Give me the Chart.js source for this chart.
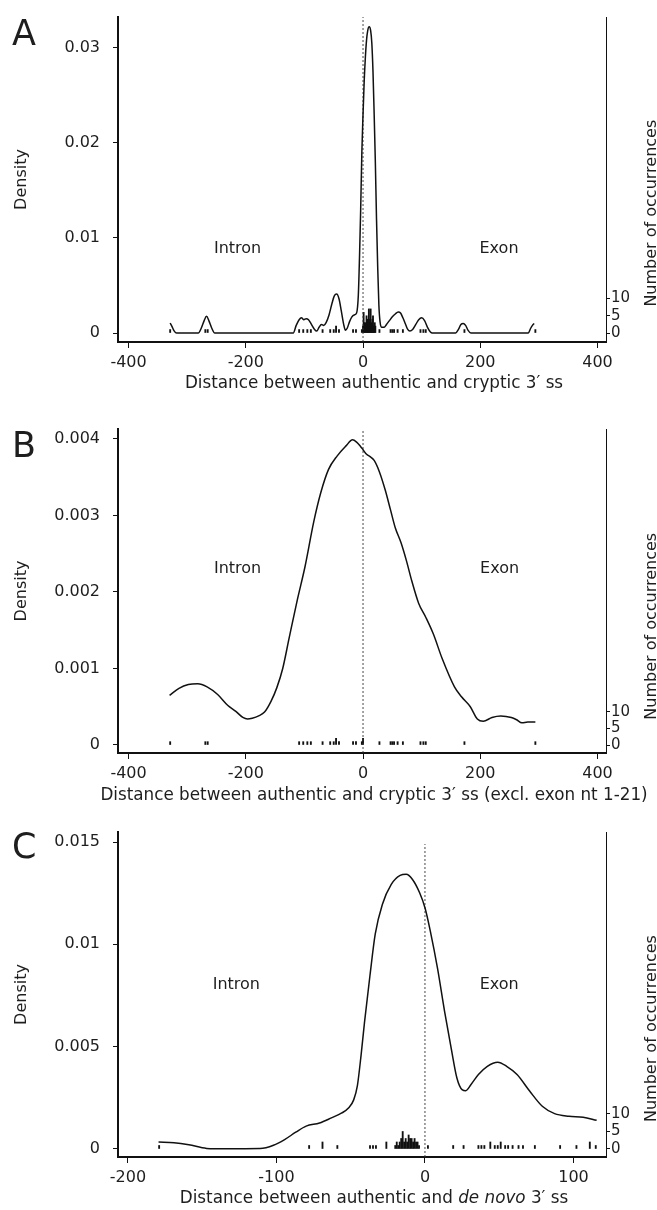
<!DOCTYPE html>
<html><head><meta charset="utf-8">
<script src="https://cdn.jsdelivr.net/npm/chart.js@4.4.0/dist/chart.umd.min.js"></script>
<style>
html,body{margin:0;padding:0;background:#fff;}
#wrap{position:relative;width:657px;height:1210px;overflow:hidden;background:#fff;}
canvas{position:absolute;left:0;}
</style></head><body>
<div id="wrap">
<canvas id="cA" width="657" height="400" style="top:0px;width:657px;height:400px"></canvas>
<canvas id="cB" width="657" height="410" style="top:400px;width:657px;height:410px"></canvas>
<canvas id="cC" width="657" height="400" style="top:810px;width:657px;height:400px"></canvas>
</div>
<script>
// ---------- tick labels ----------
const xTicksAB = [-400, -200, 0, 200, 400];
const xTicksC = [-200, -100, 0, 100];
const yTicksA = [0, 0.01, 0.02, 0.03];
const yTicksB = [0, 0.001, 0.002, 0.003, 0.004];
const yTicksC = [0, 0.005, 0.01, 0.015];
const countTicks = [0, 5, 10];

// ---------- panel A: density curve ----------
const densA_x = [-329,-326,-322,-318,-300,-281,-276,-271,-267,-263,-258,-253,-200,-150,-119,-114,-109,-105,-101,-97,-93,-88,-83,-79,-75,-71,-67,-63,-58,-53,-49,-45,-41,-37,-33,-30,-27,-23,-19,-15,-11,-8,-6,-4,-2,0,2,4,6,8,10.5,13,15,17,19,21,23,25,27,29,32,36,40,45,50,55,60,64,68,72,76,80,85,90,95,100,105,110,115,118,158,163,167,171,175,179,184,282,286,289,292];
const densA_y = [0.00105,0.0007,0.0002,0,0,0,0.0005,0.0013,0.00175,0.0013,0.0005,0,0,0,0,0.0008,0.0014,0.0016,0.0014,0.0015,0.0014,0.0009,0.0004,0.0002,0.0006,0.0009,0.0008,0.0011,0.0019,0.0031,0.0039,0.0041,0.0036,0.0023,0.0009,0.0003,0.0005,0.0012,0.0017,0.0019,0.0021,0.004,0.008,0.013,0.019,0.023,0.0265,0.029,0.0308,0.0318,0.0322,0.0318,0.0305,0.0275,0.023,0.018,0.012,0.007,0.003,0.0012,0.0006,0.0006,0.0009,0.0013,0.0017,0.002,0.0022,0.0021,0.0016,0.001,0.0004,0.0002,0.0004,0.0009,0.0014,0.0016,0.0013,0.0006,0.0001,0,0,0.0004,0.0009,0.001,0.0008,0.0003,0,0,0.0005,0.0008,0.001];
// panel A: occurrences
const rugA_x = [-329,-269,-265,-109,-102,-95,-89,-69,-56,-50,-46,-41,-17,-12,-2,0,1,2,3,4,5,6,7,8,9,10,11,12,13,14,15,16,17,18,19,20,21,28,47,50,53,59,68,98,103,107,173,294];
const rugA_n = [1,1,1,1,1,1,1,1,1,1,2,1,1,1,1,2,6,3,2,3,2,5,3,4,3,7,3,4,7,3,2,4,5,2,2,3,2,1,1,1,1,1,1,1,1,1,1,1];

// ---------- panel B ----------
const densB_x = [-330,-314,-298,-282,-266,-248,-231,-217,-205,-197,-189,-178,-168,-157,-147,-137,-126,-112,-99,-84,-72,-59,-44,-29,-18,-11,-4,0,6,12,19,28,38,47,55,65,74,83,95,107,120,135,156,168,183,195,205,220,235,253,262,271,281,294];
const densB_y = [0.00065,0.00074,0.00079,0.0008,0.00076,0.00066,0.00052,0.00044,0.00036,0.00034,0.00035,0.00038,0.00043,0.00057,0.00075,0.001,0.0014,0.0019,0.00233,0.00292,0.0033,0.0036,0.00378,0.00391,0.00399,0.00396,0.0039,0.00386,0.0038,0.00377,0.00372,0.00357,0.00333,0.00307,0.00284,0.00264,0.00241,0.00215,0.00185,0.00167,0.00145,0.00113,0.00076,0.00063,0.0005,0.00034,0.00031,0.00036,0.00038,0.00036,0.00033,0.00029,0.0003,0.0003];
const rugB_x = [-329,-269,-265,-109,-102,-95,-89,-69,-56,-50,-46,-41,-17,-12,-2,0,28,47,50,53,59,68,98,103,107,173,294];
const rugB_n = [1,1,1,1,1,1,1,1,1,1,2,1,1,1,1,2,1,1,1,1,1,1,1,1,1,1,1];

// ---------- panel C ----------
const densC_x = [-179.4,-169,-159,-147,-135,-111,-102,-94.5,-87,-80,-71,-63,-56,-51.5,-48,-45.5,-43,-40.7,-37,-33.5,-28.7,-22.7,-16.7,-12.7,-8.4,-3.6,0,3.6,8.4,13.2,18,21.5,25,27.5,31,36,42,49,55,62,70.6,79,87.3,97,106.5,115.6];
const densC_y = [0.00034,0.00031,0.00021,0.00003,0.00001,0.00002,0.00018,0.00046,0.00082,0.00112,0.00127,0.00152,0.00176,0.002,0.0024,0.0031,0.0046,0.0062,0.0085,0.0105,0.01195,0.01293,0.01337,0.01342,0.01317,0.01252,0.01179,0.01065,0.00885,0.00673,0.00478,0.00347,0.0029,0.00285,0.00315,0.00364,0.00404,0.00424,0.00404,0.00364,0.00282,0.00209,0.00173,0.0016,0.00155,0.0014];
const rugC_x = [-179,-78,-69,-59,-37,-35,-33,-26,-20,-19,-18,-17,-16,-15,-14,-13,-12,-11,-10,-9,-8,-7,-6,-5,-4,2,19,26,36,38,40,44,47,49,51,54,56,59,63,66,74,91,102,111,115];
const rugC_n = [1,1,2,1,1,1,1,2,1,2,1,2,3,5,2,3,2,4,3,3,2,3,2,2,1,1,1,1,1,1,1,2,1,1,2,1,1,1,1,1,1,1,1,2,1];

// ---------- styling ----------
const FONT = '"DejaVu Sans", Verdana, sans-serif';
const INK = '#111111';
const TXT = '#1e1e1e';
Chart.defaults.font.family = FONT;

const annot = {
  id: 'annot',
  afterDraw(chart, args, o) {
    const {ctx, chartArea, scales} = chart;
    const xs = scales.x, ys = scales.y, yc = scales.y2;
    ctx.save();
    ctx.fillStyle = TXT;
    // region labels
    ctx.font = '16px ' + FONT;
    ctx.textAlign = 'center'; ctx.textBaseline = 'middle';
    o.regions.forEach(r => ctx.fillText(r.text, xs.getPixelForValue(r.x), ys.getPixelForValue(r.y)));
    // panel letter
    ctx.font = '35px ' + FONT;
    ctx.textAlign = 'left'; ctx.textBaseline = 'alphabetic';
    ctx.fillText(o.letter, 12, o.letterY);
    // x title (segments, some italic)
    const tf = '16.8px ' + FONT;
    let total = 0;
    const segs = o.xTitle.map(s => {
      ctx.font = (s.italic ? 'italic ' : '') + tf;
      const w = ctx.measureText(s.text).width; total += w; return {s, w};
    });
    let x = (chartArea.left + chartArea.right) / 2 + 12 - total / 2;
    ctx.textAlign = 'left'; ctx.textBaseline = 'middle';
    segs.forEach(({s, w}) => {
      ctx.font = (s.italic ? 'italic ' : '') + tf;
      ctx.fillText(s.text, x, o.xTitleY); x += w;
    });
    // right axis title: starts just below the "10" tick level
    ctx.font = '16px ' + FONT;
    const rt = 'Number of occurrences';
    const rw = ctx.measureText(rt).width;
    const yStart = yc.getPixelForValue(10) + 8;
    ctx.translate(656, yStart);
    ctx.rotate(-Math.PI / 2);
    ctx.textAlign = 'left'; ctx.textBaseline = 'alphabetic';
    ctx.fillText(rt, 0, 0);
    ctx.restore();
  }
};

function makePanel(id, P) {
  const lineData = P.densX.map((x, i) => ({x, y: P.densY[i]}));
  const rugData = P.rugX.map((x, i) => ({x, y: P.rugN[i]}));
  const tickFont = {family: FONT, size: 16};
  return new Chart(document.getElementById(id), {
    type: 'line',
    plugins: [annot],
    data: {datasets: [
      {type: 'line', data: lineData, yAxisID: 'y', borderColor: INK, borderWidth: 1.5,
       pointRadius: 0, cubicInterpolationMode: 'monotone', fill: false, order: 1},
      {type: 'line', data: [{x: 0, y: P.yMin}, {x: 0, y: P.vTop}], yAxisID: 'y',
       borderColor: '#333', borderWidth: 0.9, borderDash: [2, 2], pointRadius: 0, fill: false, order: 2},
      {type: 'bar', data: rugData, yAxisID: 'y2', backgroundColor: INK, borderWidth: 0,
       barThickness: 1.2, order: 3}
    ]},
    options: {
      responsive: false, animation: false, devicePixelRatio: 1,
      layout: {padding: {top: P.padTop, left: 0, right: 0, bottom: 0}},
      plugins: {legend: {display: false}, tooltip: {enabled: false}, annot: P.annot},
      scales: {
        x: {type: 'linear', position: 'bottom', min: P.xMin, max: P.xMax, offset: false,
          afterBuildTicks: s => { s.ticks = P.xTicks.map(v => ({value: v})); },
          afterFit: s => { s.height = P.xAxisH; s.paddingLeft = 0; s.paddingRight = 0; },
          grid: {display: true, drawOnChartArea: false, drawTicks: true, tickLength: 6, color: INK, lineWidth: 1, offset: false},
          border: {display: true, color: INK, width: 2},
          ticks: {font: tickFont, color: TXT, padding: 5, maxRotation: 0, autoSkip: false, callback: v => String(v)}
        },
        y: {type: 'linear', position: 'left', min: P.yMin, max: P.yMax,
          afterBuildTicks: s => { s.ticks = P.yTicks.map(v => ({value: v})); },
          afterFit: s => { s.width = 118; s.paddingTop = 0; s.paddingBottom = 0; },
          grid: {display: true, drawOnChartArea: false, drawTicks: true, tickLength: 5, color: INK, lineWidth: 1},
          border: {display: true, color: INK, width: 2},
          ticks: {font: tickFont, color: TXT, padding: 13, autoSkip: false, callback: v => String(v)},
          title: {display: true, text: 'Density', font: {family: FONT, size: 16}, color: TXT, padding: {top: 12, bottom: 0}}
        },
        y2: {type: 'linear', position: 'right', min: P.cMin, max: P.cMax,
          afterBuildTicks: s => { s.ticks = countTicks.map(v => ({value: v})); },
          afterFit: s => { s.width = 51; s.paddingTop = 0; s.paddingBottom = 0; },
          grid: {display: true, drawOnChartArea: false, drawTicks: true, tickLength: 4, color: INK, lineWidth: 1},
          border: {display: true, color: INK, width: 1},
          ticks: {font: {family: FONT, size: 15}, color: TXT, padding: 1, autoSkip: false, callback: v => String(v)}
        }
      }
    }
  });
}

const titleAB = [{text: 'Distance between authentic and cryptic 3\u2032 ss'}];
makePanel('cA', {
  densX: densA_x, densY: densA_y, rugX: rugA_x, rugN: rugA_n,
  xTicks: xTicksAB, yTicks: yTicksA, xMin: -418, xMax: 414.5,
  yMin: -0.000946, yMax: 0.033228, vTop: 0.033228, cMin: -2.616, cMax: 91.86,
  padTop: 17, xAxisH: 58,
  annot: {letter: 'A', letterY: 45, xTitleY: 384, xTitle: titleAB,
    regions: [{text: 'Intron', x: -214, y: 0.0089}, {text: 'Exon', x: 232, y: 0.0089}]}
});
makePanel('cB', {
  densX: densB_x, densY: densB_y, rugX: rugB_x, rugN: rugB_n,
  xTicks: xTicksAB, yTicks: yTicksB, xMin: -418, xMax: 414.5,
  yMin: -0.0001046, yMax: 0.0041307, vTop: 0.0041307, cMin: -2.4, cMax: 94.9,
  padTop: 29, xAxisH: 57,
  annot: {letter: 'B', letterY: 57, xTitleY: 396,
    xTitle: [{text: 'Distance between authentic and cryptic 3\u2032 ss (excl. exon nt 1-21)'}],
    regions: [{text: 'Intron', x: -214, y: 0.0023}, {text: 'Exon', x: 233, y: 0.0023}]}
});
makePanel('cC', {
  densX: densC_x, densY: densC_y, rugX: rugC_x, rugN: rugC_n,
  xTicks: xTicksC, yTicks: yTicksC, xMin: -206.7, xMax: 121.9,
  yMin: -0.000391, yMax: 0.015489, vTop: 0.0149, cMin: -2.29, cMax: 90.57,
  padTop: 22, xAxisH: 53,
  annot: {letter: 'C', letterY: 48, xTitleY: 389,
    xTitle: [{text: 'Distance between authentic and '}, {text: 'de novo', italic: true}, {text: ' 3\u2032 ss'}],
    regions: [{text: 'Intron', x: -127, y: 0.008}, {text: 'Exon', x: 50, y: 0.008}]}
});
</script>
</body></html>
